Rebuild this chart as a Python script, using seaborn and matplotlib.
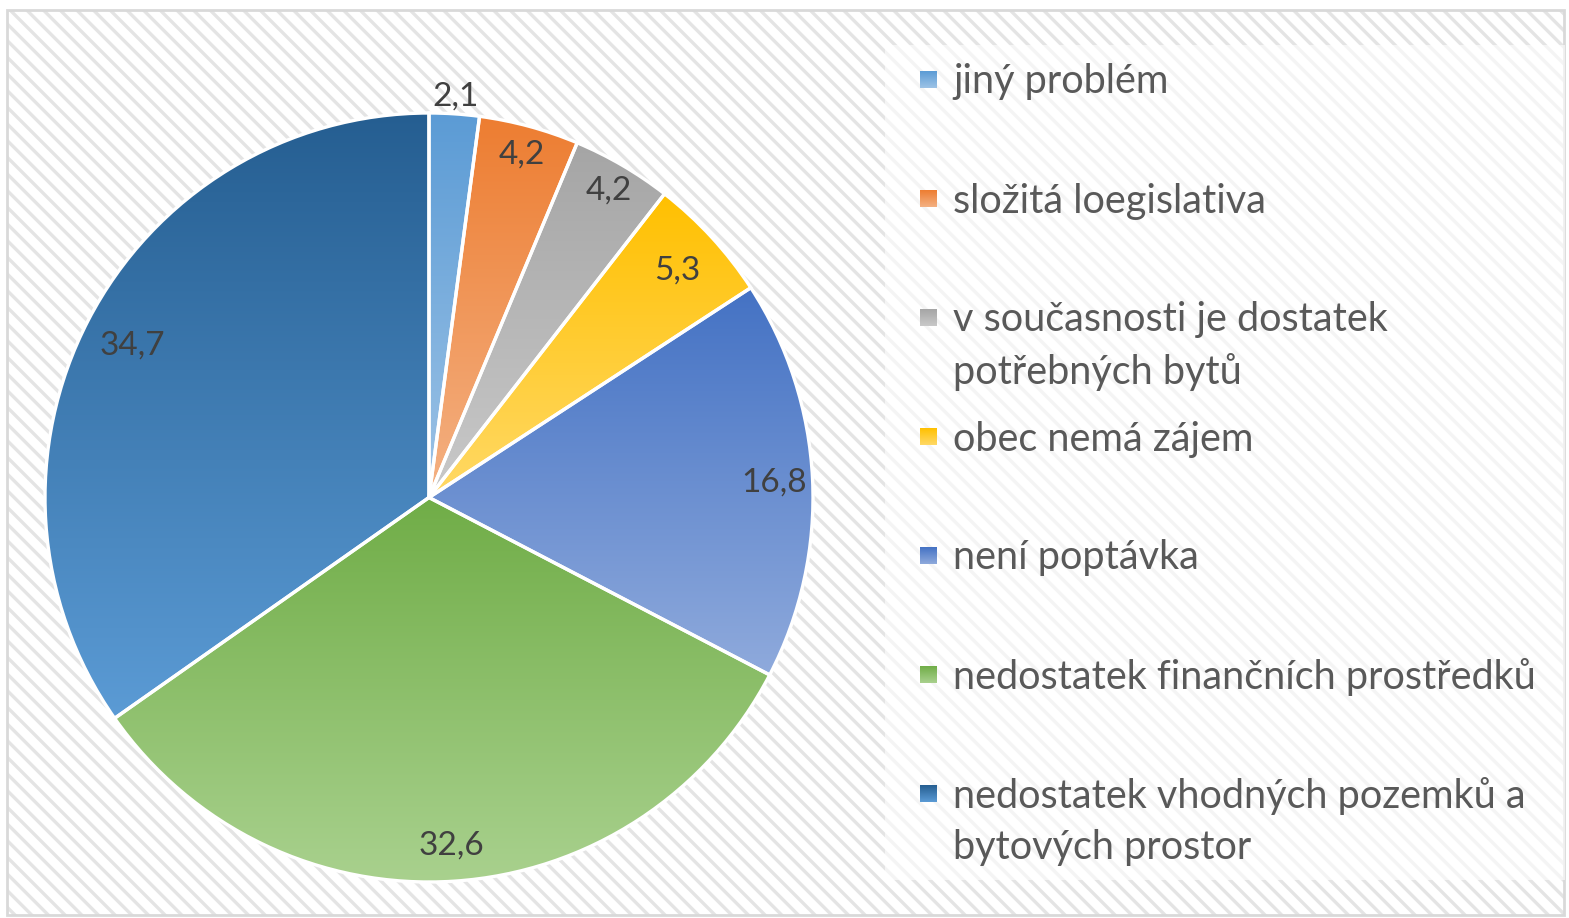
import numpy as np
import matplotlib.pyplot as plt
import matplotlib.patches as mpatches
import seaborn as sns

categories = [
    "jiný problém",
    "složitá loegislativa",
    "v současnosti je dostatek\npotřebných bytů",
    "obec nemá zájem",
    "není poptávka",
    "nedostatek finančních prostředků",
    "nedostatek vhodných pozemků a\nbytových prostor",
]
values = [2.1, 4.2, 4.2, 5.3, 16.8, 32.6, 34.7]
value_labels = ["2,1", "4,2", "4,2", "5,3", "16,8", "32,6", "34,7"]

# gradient ends per slice (top -> bottom)
top_colors = ["#5B9BD5", "#ED7D31", "#A5A5A5", "#FFC000", "#4472C4", "#70AD47", "#255E91"]
bottom_colors = ["#9DC3E6", "#F4B183", "#C9C9C9", "#FFD966", "#8FAADC", "#A9D18E", "#5B9BD5"]
label_dist = [1.05, 0.93, 0.93, 0.88, 0.90, 0.90, 0.87]

sns.set_theme(style="white", rc={"hatch.linewidth": 2.4})
plt.rcParams["font.family"] = ["Lato", "DejaVu Sans"]

W, H = 1569, 918
fig = plt.figure(figsize=(W / 100, H / 100), dpi=100)

# hatched chart background + border
fig.patches.append(mpatches.Rectangle((7 / W, 3 / H), 1557 / W, 905 / H, transform=fig.transFigure,
                                      facecolor="white", edgecolor="#e4e4e4", hatch="\\\\",
                                      linewidth=0, zorder=-2))
fig.patches.append(mpatches.Rectangle((7 / W, 3 / H), 1557 / W, 905 / H, transform=fig.transFigure,
                                      facecolor="none", edgecolor="#d9d9d9", linewidth=2, zorder=-1))

# pie
ax = fig.add_axes([45 / W, 36 / H, 768 / W, 769 / H])
ax.patch.set_visible(False)
wedges, _ = ax.pie(values, startangle=90, counterclock=False, radius=1,
                   wedgeprops=dict(edgecolor="white", linewidth=2.4, facecolor="none"))
ax.set_xlim(-1, 1)
ax.set_ylim(-1, 1)
ax.set_aspect("auto")
ax.axis("off")

grad = np.linspace(0, 1, 256).reshape(-1, 1)
for w, c0, c1 in zip(wedges, top_colors, bottom_colors):
    w.set_zorder(3)
    bb = w.get_path().get_extents()
    cmap = sns.blend_palette([c0, c1], 256, as_cmap=True)
    im = ax.imshow(grad, cmap=cmap, aspect="auto", origin="upper",
                   extent=[bb.x0, bb.x1, bb.y0, bb.y1], zorder=2)
    im.set_clip_path(w)

for w, lab, d in zip(wedges, value_labels, label_dist):
    ang = np.deg2rad((w.theta1 + w.theta2) / 2)
    ax.text(d * np.cos(ang), d * np.sin(ang) - 0.006, lab, ha="center", va="center",
            fontsize=24, color="#404040", zorder=5)

# legend drawn in pixel coordinates
lax = fig.add_axes([0, 0, 1, 1], facecolor="none")
lax.set_xlim(0, W)
lax.set_ylim(H, 0)
lax.axis("off")
lax.add_patch(mpatches.Rectangle((885, 45), 680, 835, facecolor="white", alpha=0.6,
                                 edgecolor="none"))
y0, step, line_h = 80, 119, 52
for i, (cat, c0, c1) in enumerate(zip(categories, top_colors, bottom_colors)):
    y = y0 + i * step
    sq = mpatches.Rectangle((920, y - 9), 17, 17, facecolor="none", edgecolor="none")
    lax.add_patch(sq)
    cmap = sns.blend_palette([c0, c1], 64, as_cmap=True)
    im = lax.imshow(grad, cmap=cmap, aspect="auto", extent=[920, 937, y + 8, y - 9], zorder=2)
    im.set_clip_path(sq)
    for j, line in enumerate(cat.split("\n")):
        lax.text(953, y + 2 + j * line_h, line, ha="left", va="center", fontsize=28.5,
                 color="#595959")

fig.savefig("out.png", dpi=100)
